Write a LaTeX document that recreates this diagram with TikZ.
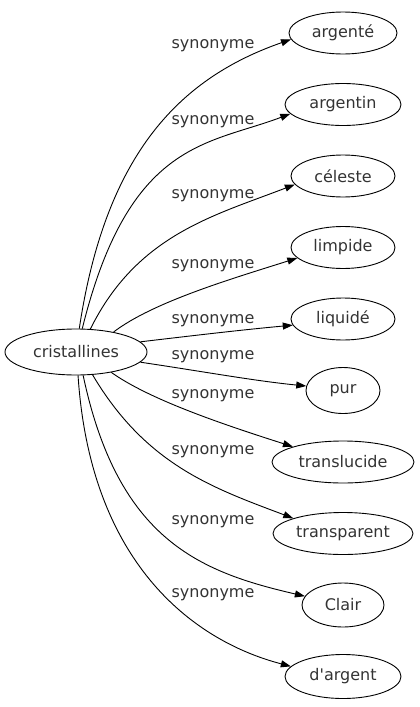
\documentclass[tikz,border=0pt]{standalone}
\usepackage{fontspec}
\newfontfamily\lblfont{DejaVu Sans}
\usetikzlibrary{shapes.geometric,arrows.meta}
\begin{document}
\begin{tikzpicture}[x=1pt,y=-1pt,
  term/.style={ellipse,draw,line width=0.9pt,minimum height=42pt,inner sep=0pt,font=\lblfont\fontsize{16}{18}\selectfont,text=black!80},
  lbl/.style={font=\lblfont\fontsize{16}{18}\selectfont,text=black!80,inner sep=0pt},
  edge/.style={line width=0.9pt,-{Triangle[length=10pt,width=7pt]}}]
\useasboundingbox (0,0) rectangle (420,707);
\node[term,minimum width=142pt,minimum height=46pt] (c) at (76,352) {cristallines};
\node[term,minimum width=108pt] (t1) at (343,33) {argenté};
\node[term,minimum width=116pt] (t2) at (343,104.5) {argentin};
\node[term,minimum width=104pt] (t3) at (343,176) {céleste};
\node[term,minimum width=104pt] (t4) at (343,247.5) {limpide};
\node[term,minimum width=104pt] (t5) at (343,319) {liquidé};
\node[term,minimum width=74pt,minimum height=46pt] (t6) at (343,390.5) {pur};
\node[term,minimum width=142pt] (t7) at (343,462) {translucide};
\node[term,minimum width=140pt] (t8) at (343,533.5) {transparent};
\node[term,minimum width=82pt,minimum height=44pt] (t9) at (343,605) {Clair};
\node[term,minimum width=116pt,minimum height=44pt] (t10) at (343,676.5) {d'argent};
\node[lbl] (l1) at (213,46) {synonyme};
\node[lbl] (l2) at (213,122) {synonyme};
\node[lbl] (l3) at (213,196) {synonyme};
\node[lbl] (l4) at (213,266) {synonyme};
\node[lbl] (l5) at (213,321) {synonyme};
\node[lbl] (l6) at (213,357) {synonyme};
\node[lbl] (l7) at (213,396) {synonyme};
\node[lbl] (l8) at (213,452) {synonyme};
\node[lbl] (l9) at (213,522) {synonyme};
\node[lbl] (l10) at (213,595) {synonyme};
\draw[edge] (c.82) .. controls (106,150) and (183,77) .. (t1.187);
\draw[edge] (c.75) .. controls (129,140) and (208,145) .. (t2.190);
\draw[edge] (c.58) .. controls (137,235) and (213,216) .. (t3.190);
\draw[edge] (c.28) .. controls (153,302) and (231,279) .. (t4.193);
\draw[edge] (c.9) .. controls (190,336) and (240,330) .. (t5.187);
\draw[edge] (c.-9) .. controls (200,371) and (255,381) .. (t6.173);
\draw[edge] (c.-30) .. controls (150,400) and (225,425) .. (t7.163);
\draw[edge] (c.-54) .. controls (146,465) and (213,488) .. (t8.163);
\draw[edge] (c.-73) .. controls (118,540) and (200,572) .. (t9.167);
\draw[edge] (c.-85) .. controls (90,560) and (190,640) .. (t10.169);
\end{tikzpicture}
\end{document}
